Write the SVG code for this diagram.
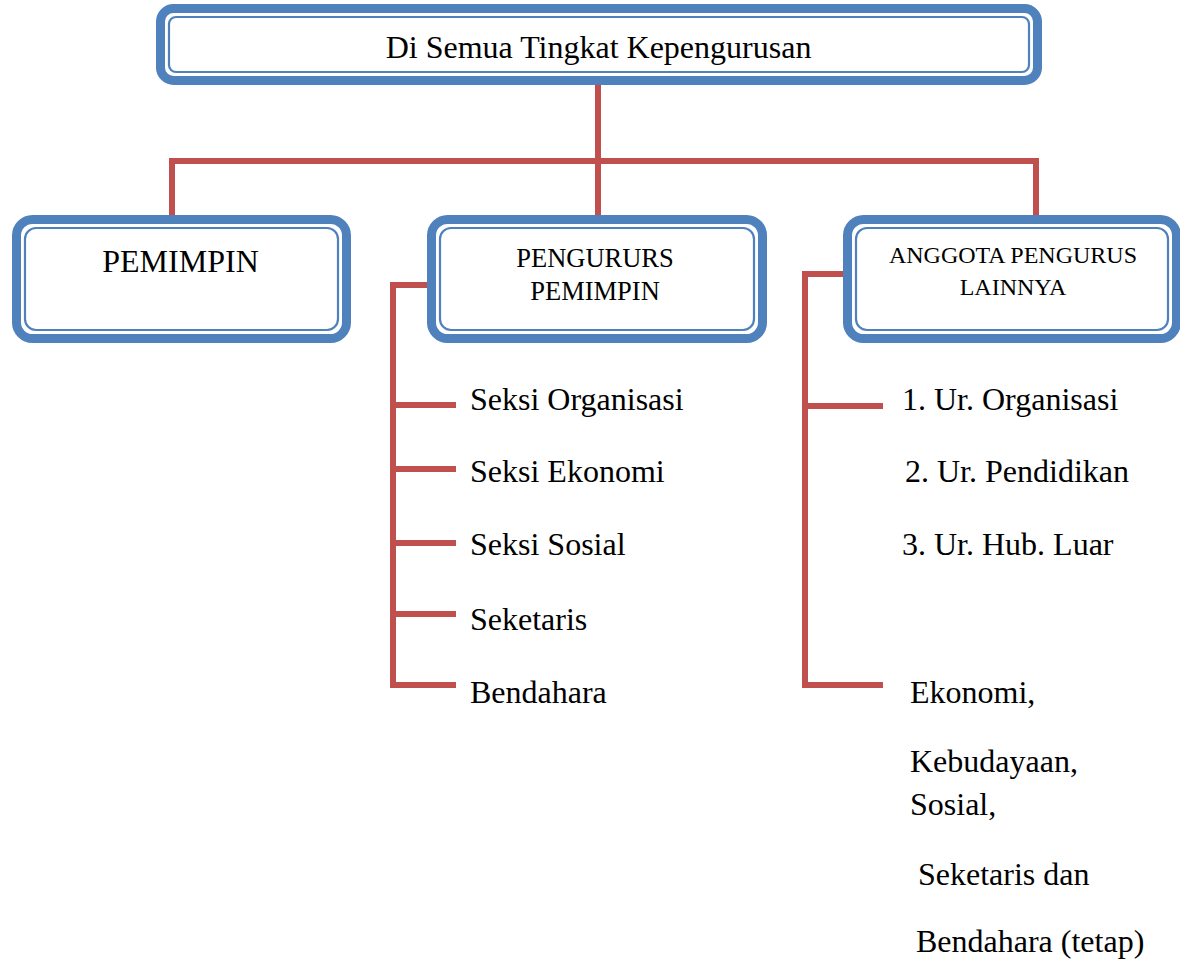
<svg xmlns="http://www.w3.org/2000/svg" width="1180" height="961" viewBox="0 0 1180 961">
<style>
.outer{fill:#fff;stroke:#4F81BD;stroke-width:9}
.inner{fill:none;stroke:#4F81BD;stroke-width:2.2}
.con{fill:none;stroke:#C0504D;stroke-width:6;stroke-linecap:butt;stroke-linejoin:miter}
text{font-family:"Liberation Serif","Times New Roman",serif;fill:#000}
.t32{font-size:32px}
.mid{text-anchor:middle}
</style>
<rect width="1180" height="961" fill="#fff"/>
<g id="connectors">
<path class="con" d="M598,80 V218"/>
<path class="con" d="M172,215 V161 H1036 V218"/>
<path class="con" d="M430,285 H393 V685 H456"/>
<path class="con" d="M393,405 H456 M393,469 H456 M393,543 H456 M393,614 H456"/>
<path class="con" d="M846,274 H805 V685 H883"/>
<path class="con" d="M805,406 H883"/>
</g>
<g id="top">
<rect class="outer" x="160.5" y="8.5" width="877" height="72" rx="13"/>
<rect class="inner" x="169" y="17" width="860" height="55" rx="7"/>
<text class="t32 mid" x="598.5" y="58">Di Semua Tingkat Kepengurusan</text>
</g>
<g id="pemimpin">
<rect class="outer" x="16.5" y="219.5" width="330" height="119" rx="16"/>
<rect class="inner" x="25" y="228" width="313" height="102" rx="11"/>
<text class="t32 mid" x="180.5" y="272">PEMIMPIN</text>
</g>
<g id="pengurus">
<rect class="outer" x="431.5" y="219.5" width="331" height="119" rx="16"/>
<rect class="inner" x="440" y="228" width="314" height="102" rx="11"/>
<text class="mid" x="595" y="267" font-size="26.5">PENGURURS</text>
<text class="mid" x="595" y="300" font-size="26.5">PEMIMPIN</text>
</g>
<g id="anggota">
<rect class="outer" x="847.5" y="219.5" width="329" height="119" rx="16"/>
<rect class="inner" x="856" y="228" width="312" height="102" rx="11"/>
<text class="mid" x="1013" y="263" font-size="24">ANGGOTA PENGURUS</text>
<text class="mid" x="1013" y="295" font-size="24">LAINNYA</text>
</g>
<g id="list-pengurus">
<text class="t32" x="470" y="410">Seksi Organisasi</text>
<text class="t32" x="470" y="482">Seksi Ekonomi</text>
<text class="t32" x="470" y="555">Seksi Sosial</text>
<text class="t32" x="470" y="630">Seketaris</text>
<text class="t32" x="470" y="703">Bendahara</text>
</g>
<g id="list-anggota">
<text class="t32" x="902" y="410">1. Ur. Organisasi</text>
<text class="t32" x="905" y="482">2. Ur. Pendidikan</text>
<text class="t32" x="902" y="555">3. Ur. Hub. Luar</text>
<text class="t32" x="910" y="703">Ekonomi,</text>
<text class="t32" x="910" y="772">Kebudayaan,</text>
<text class="t32" x="910" y="815">Sosial,</text>
<text class="t32" x="918" y="885">Seketaris dan</text>
<text class="t32" x="916" y="952">Bendahara (tetap)</text>
</g>
</svg>
